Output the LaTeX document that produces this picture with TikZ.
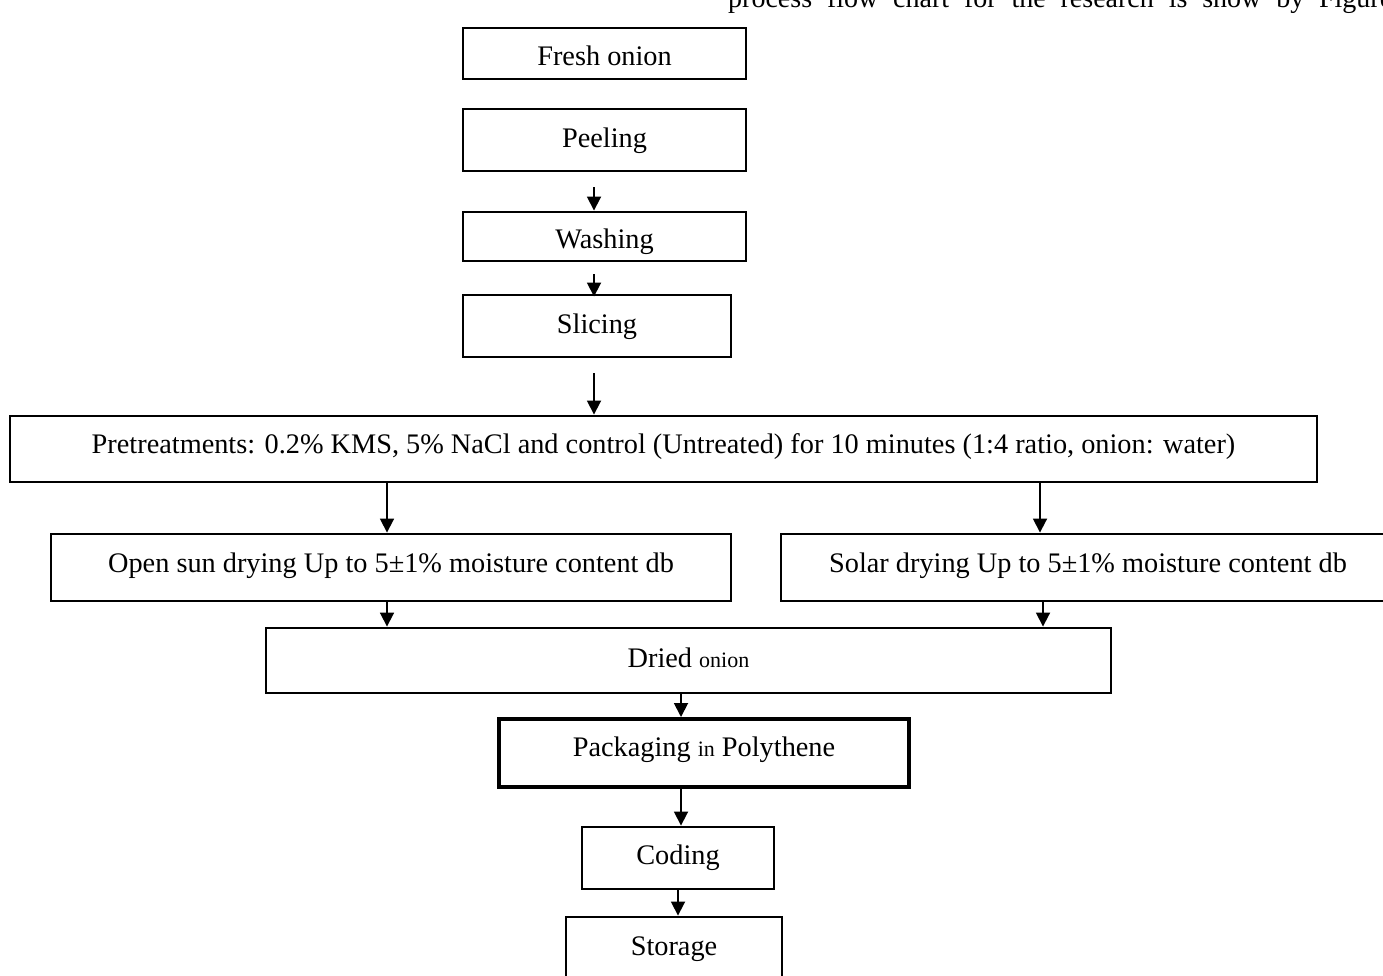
\documentclass[tikz,border=0pt]{standalone}
\usepackage{fontspec}
\setmainfont{Liberation Serif}
\usetikzlibrary{arrows.meta,calc}
\tikzset{
  box/.style={draw, line width=2.9pt, inner sep=0pt, font=\fontsize{28.3}{32}\selectfont},
  tb/.style 2 args={text height=#1pt, text depth=#2pt},
  arr/.style={line width=1.8pt, -{Triangle[width=14pt,length=14pt]}},
}
\newcommand\smtext[1]{{\fontsize{22}{26}\selectfont #1}}
\begin{document}
\begin{tikzpicture}[x=1pt,y=-1pt]
\useasboundingbox (0,0) rectangle (1383,975);
% cut-off line of running text
\node[anchor=base west, inner sep=0pt, font=\fontsize{28}{32}\selectfont] (cap) at (728,7)
  {\makebox[664pt][s]{process flow chart for the research is show by Figure}};
% boxes
\node[box, tb={26.5}{3.5}, minimum width=283pt, minimum height=51pt] (fresh) at (604.5,53.5) {Fresh onion};
\node[box, tb={22}{8}, minimum width=283pt, minimum height=62pt] (peel) at (604.5,140) {Peeling};
\node[box, tb={26.5}{3.5}, minimum width=283pt, minimum height=49pt] (wash) at (604.5,236.5) {Washing};
\node[box, tb={22}{8}, minimum width=268pt, minimum height=62pt] (slice) at (597,326) {Slicing};
\node[box, tb={19}{11}, minimum width=1307pt, minimum height=66pt] (pre) at (663.5,449)
  {Pretreatments: 0.2\% KMS, 5\% NaCl and control (Untreated) for 10 minutes (1:4 ratio, onion: water)};
\node[box, tb={19.5}{10.5}, minimum width=680pt, minimum height=67pt] (open) at (391,567.5)
  {Open sun drying Up to 5±1\% moisture content db};
\node[box, tb={19.5}{10.5}, minimum width=614pt, minimum height=67pt] (solar) at (1088,567.5)
  {Solar drying Up to 5±1\% moisture content db};
\node[box, tb={21.5}{8.5}, minimum width=845pt, minimum height=65pt] (dried) at (688.5,660.5)
  {Dried \smtext{onion}};
\node[box, line width=4pt, tb={18}{12}, minimum width=410pt, minimum height=68pt] (pack) at (704,753)
  {Packaging \smtext{in} Polythene};
\node[box, tb={21}{9}, minimum width=192pt, minimum height=62pt] (code) at (678,858) {Coding};
\node[box, tb={16.5}{13.5}, minimum width=216pt, minimum height=73pt] (store) at (674,953.5) {Storage};
% connector x positions
\coordinate (xa) at (594,0);
\coordinate (xl) at (387,0);
\coordinate (xr1) at (1040,0);
\coordinate (xr2) at (1043,0);
\coordinate (xp) at (681,0);
\coordinate (xc) at (678,0);
% connectors
\draw[arr] ($(peel.south -| xa)+(0,15)$) -- (wash.north -| xa);
\draw[arr] ($(wash.south -| xa)+(0,12)$) -- ($(slice.north -| xa)+(0,3)$);
\draw[arr] ($(slice.south -| xa)+(0,15)$) -- (pre.north -| xa);
\draw[arr] (pre.south -| xl) -- (open.north -| xl);
\draw[arr] (pre.south -| xr1) -- (solar.north -| xr1);
\draw[arr] (open.south -| xl) -- (dried.north -| xl);
\draw[arr] (solar.south -| xr2) -- (dried.north -| xr2);
\draw[arr] (dried.south -| xp) -- (pack.north -| xp);
\draw[arr] (pack.south -| xp) -- (code.north -| xp);
\draw[arr] (code.south -| xc) -- (store.north -| xc);
\end{tikzpicture}
\end{document}
